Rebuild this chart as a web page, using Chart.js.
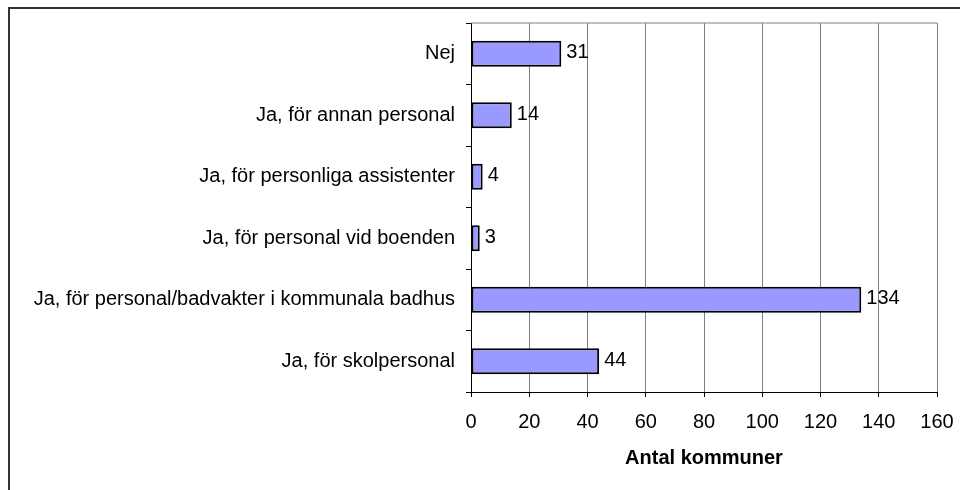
<!DOCTYPE html>
<html>
<head>
<meta charset="utf-8">
<script src="https://cdn.jsdelivr.net/npm/chart.js@4/dist/chart.umd.min.js"></script>
<style>
    html, body { margin: 0; padding: 0; background: #fff; }
    #wrap { width: 960px; height: 490px; position: relative; }
</style>
</head>
<body>
<div id="wrap"><canvas id="kommunChart" width="960" height="490"></canvas></div>
<script>
// Data
const categories = [
    'Nej',
    'Ja, för annan personal',
    'Ja, för personliga assistenter',
    'Ja, för personal vid boenden',
    'Ja, för personal/badvakter i kommunala badhus',
    'Ja, för skolpersonal'
];
const values = [31, 14, 4, 3, 134, 44];
const xTicks = [0, 20, 40, 60, 80, 100, 120, 140, 160];
const axisTitle = 'Antal kommuner';

Chart.defaults.font.family = "'Liberation Sans', Arial, sans-serif";
Chart.defaults.font.size = 20;
Chart.defaults.color = '#000';

// Outer frame and the grey top line of the plot area
const framePlugin = {
    id: 'frame',
    beforeDraw(chart) {
        const ctx = chart.ctx;
        ctx.save();
        ctx.fillStyle = '#fff';
        ctx.fillRect(0, 0, chart.width, chart.height);
        ctx.strokeStyle = '#333';
        ctx.lineWidth = 2;
        ctx.strokeRect(9, 8, chart.width + 20, chart.height + 20);
        ctx.restore();
    },
    afterDatasetsDraw(chart) {
        const a = chart.chartArea;
        const ctx = chart.ctx;
        ctx.save();
        ctx.strokeStyle = '#808080';
        ctx.lineWidth = 1;
        ctx.beginPath();
        ctx.moveTo(a.left, a.top);
        ctx.lineTo(a.right, a.top);
        ctx.stroke();
        ctx.restore();
    }
};

// Value labels to the right of each bar
const valueLabels = {
    id: 'valueLabels',
    afterDatasetsDraw(chart) {
        const ctx = chart.ctx;
        const meta = chart.getDatasetMeta(0);
        ctx.save();
        ctx.font = "20px 'Liberation Sans', Arial, sans-serif";
        ctx.fillStyle = '#000';
        ctx.textAlign = 'left';
        ctx.textBaseline = 'middle';
        meta.data.forEach((bar, i) => {
            ctx.fillText(String(values[i]), bar.x + 5, bar.y - 1);
        });
        ctx.restore();
    }
};

const ctx = document.getElementById('kommunChart').getContext('2d');
new Chart(ctx, {
    type: 'bar',
    data: {
        labels: categories,
        datasets: [{
            data: values,
            backgroundColor: '#9999ff',
            borderColor: '#000',
            borderWidth: 2,
            borderSkipped: false,
            categoryPercentage: 1,
            barPercentage: 0.42
        }]
    },
    options: {
        indexAxis: 'y',
        responsive: false,
        animation: false,
        layout: {
            padding: { top: 23, right: 23, left: 0, bottom: 0 }
        },
        scales: {
            x: {
                min: 0,
                max: 160,
                afterBuildTicks: function(scale) {
                    scale.ticks = xTicks.map(v => ({ value: v }));
                },
                afterFit: function(scale) {
                    scale.height = 98;
                    scale.paddingLeft = 0;
                    scale.paddingRight = 0;
                },
                grid: {
                    color: '#808080',
                    lineWidth: 1,
                    tickColor: '#000',
                    tickLength: 5
                },
                border: { color: '#000', width: 1 },
                ticks: {
                    padding: 13,
                    maxRotation: 0,
                    font: { size: 20 }
                },
                title: {
                    display: true,
                    text: axisTitle,
                    font: { size: 20, weight: 'bold' },
                    padding: { top: 0, bottom: 20 }
                }
            },
            y: {
                afterFit: function(scale) {
                    scale.width = 471;
                    scale.paddingTop = 0;
                    scale.paddingBottom = 0;
                },
                grid: {
                    offset: true,
                    drawOnChartArea: false,
                    color: '#000',
                    tickColor: '#000',
                    tickLength: 5
                },
                border: { color: '#000', width: 1 },
                ticks: {
                    padding: 11,
                    font: { size: 20 }
                }
            }
        },
        plugins: {
            legend: { display: false },
            tooltip: { enabled: false }
        }
    },
    plugins: [framePlugin, valueLabels]
});
</script>
</body>
</html>
